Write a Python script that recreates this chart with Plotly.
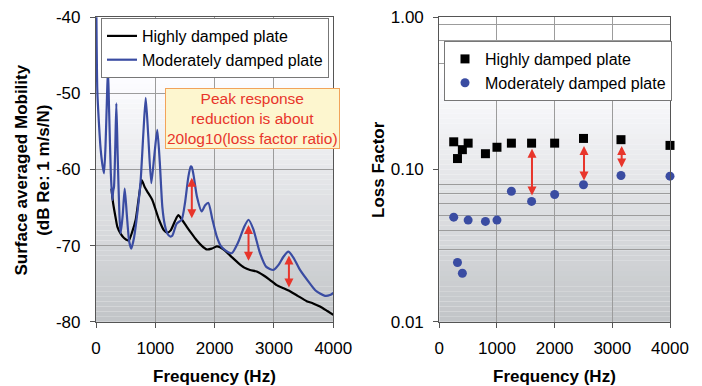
import math
import plotly.graph_objects as go

# ---------------- data ----------------
# Left: surface averaged mobility (dB re 1 m/s/N)
high_freq = [260, 290, 330, 359, 420, 472, 530, 556, 610, 669, 720, 770, 820, 865, 949, 1062,
             1146, 1200, 1259, 1330, 1387, 1450, 1528, 1610, 1697, 1780, 1866, 1950, 2035, 2090,
             2147, 2220, 2288, 2400, 2500, 2596, 2709, 2821, 2930, 3046, 3160, 3270, 3400, 3551,
             3660, 3776, 3900, 4000]
high_db = [-62.5, -64.5, -66.3, -67.5, -68.5, -69.0, -69.3, -69.3, -68.2, -66.6, -63.8, -61.4,
           -62.3, -62.9, -64.0, -66.6, -68.0, -68.3, -68.0, -66.8, -66.0, -66.6, -67.5, -68.4,
           -69.3, -70.0, -70.5, -70.4, -70.1, -70.2, -70.5, -71.0, -71.5, -72.3, -72.9, -73.2,
           -73.4, -73.9, -74.5, -75.2, -75.6, -76.0, -76.6, -77.3, -77.6, -78.0, -78.6, -79.1]

mod_freq = [5, 22, 50, 79, 110, 135, 160, 185, 202, 220, 250, 275, 290, 303, 325, 343, 365, 395,
            416, 450, 484, 520, 560, 595, 640, 700, 753, 800, 838, 880, 932, 985, 1033, 1075,
            1118, 1160, 1202, 1250, 1286, 1360, 1444, 1500, 1556, 1596, 1615, 1650, 1700, 1782,
            1840, 1895, 1960, 2035, 2100, 2175, 2288, 2400, 2500, 2571, 2650, 2765, 2870, 2990,
            3080, 3157, 3242, 3330, 3439, 3607, 3700, 3776, 3860, 3944, 4000]
mod_db = [-38.0, -49.6, -54.0, -57.4, -59.5, -60.5, -57.0, -50.5, -46.7, -52.0, -60.5, -64.0,
          -62.8, -62.3, -57.0, -51.3, -58.0, -66.0, -68.4, -66.0, -62.5, -66.0, -69.5, -70.4,
          -69.0, -65.5, -61.4, -55.0, -50.6, -55.5, -61.8, -58.0, -54.8, -59.0, -64.9, -67.3,
          -68.4, -68.8, -68.7, -67.1, -66.6, -64.4, -61.0, -59.6, -59.7, -61.0, -63.5, -65.5,
          -64.7, -64.4, -66.5, -68.8, -70.0, -70.6, -71.0, -69.5, -67.5, -66.6, -67.8, -71.0,
          -72.8, -73.2, -72.5, -71.5, -70.8, -71.6, -73.2, -75.0, -75.9, -76.3, -76.6, -76.5,
          -76.2]

left_arrow_freq = [1615, 2571, 3252]
left_arrow_top = [-60.9, -67.1, -71.1]
left_arrow_bottom = [-66.4, -72.0, -75.5]

# Right: loss factor per 1/3-octave band
band_freq = [250, 315, 400, 500, 800, 1000, 1250, 1600, 2000, 2500, 3150, 4000]
loss_high = [0.152, 0.118, 0.135, 0.149, 0.127, 0.140, 0.149, 0.149, 0.149, 0.160, 0.157, 0.144]
loss_mod = [0.0486, 0.0245, 0.0208, 0.0465, 0.0456, 0.0465, 0.0720, 0.0617, 0.0685, 0.0794,
            0.0913, 0.0904]

right_arrow_freq = [1607, 2509, 3162]
right_arrow_top = [0.140, 0.146, 0.146]
right_arrow_bottom = [0.0675, 0.0847, 0.103]

# tick labels
left_yticks = [-40, -50, -60, -70, -80]
left_yticklabels = ["-40", "-50", "-60", "-70", "-80"]
x_ticks = [0, 1000, 2000, 3000, 4000]
right_yticks = [0.01, 0.1, 1.0]
right_yticklabels = ["0.01", "0.10", "1.00"]
right_minor_grid = [0.03, 0.04, 0.05, 0.06, 0.07, 0.08, 0.5, 0.7, 0.9]

# ---------------- styling ----------------
W, H = 702, 386
FONT = "Liberation Sans, Arial, sans-serif"
BLUE = "#3a4ca2"
RED = "#e8352b"
GRID = "#9c9c9c"
AX = "#555555"

L_X0, L_X1 = 96 / W, 333.3 / W
R_X0, R_X1 = 439.3 / W, 670 / W
Y0, Y1 = 1 - 321.7 / H, 1 - 17.3 / H

fig = go.Figure()

fig.add_trace(go.Scatter(x=high_freq, y=high_db, mode="lines", name="Highly damped plate",
                         line=dict(color="#000000", width=2.2, shape="spline", smoothing=0.6),
                         xaxis="x", yaxis="y", legend="legend"))
fig.add_trace(go.Scatter(x=mod_freq, y=mod_db, mode="lines", name="Moderately damped plate",
                         line=dict(color=BLUE, width=2.2, shape="spline", smoothing=0.6),
                         xaxis="x", yaxis="y", legend="legend"))

fig.add_trace(go.Scatter(x=band_freq, y=loss_high, mode="markers", name="Highly damped plate",
                         marker=dict(symbol="square", color="#000000", size=9),
                         xaxis="x2", yaxis="y2", legend="legend2", cliponaxis=False))
fig.add_trace(go.Scatter(x=band_freq, y=loss_mod, mode="markers", name="Moderately damped plate",
                         marker=dict(symbol="circle", color=BLUE, size=9),
                         xaxis="x2", yaxis="y2", legend="legend2", cliponaxis=False))

# gradient backgrounds (stacked stripes)
shapes = []
N = 60
for xref, yref in (("x domain", "y domain"), ("x2 domain", "y2 domain")):
    for i in range(N):
        t0, t1 = i / N, (i + 1) / N
        t = (t0 + t1) / 2
        s = min(1.0, t / 0.82)
        r = int(194 + (255 - 194) * s)
        g = int(197 + (255 - 197) * s)
        b = int(200 + (255 - 200) * min(1.0, s * 1.05))
        shapes.append(dict(type="rect", xref=xref, yref=yref, x0=0, x1=1, y0=t0, y1=t1,
                           fillcolor=f"rgb({r},{g},{b})", line=dict(width=0), layer="below"))

annotations = []
# red double arrows
for f, top, bot in zip(left_arrow_freq, left_arrow_top, left_arrow_bottom):
    annotations.append(dict(x=f, y=bot, ax=f, ay=top, xref="x", yref="y", axref="x", ayref="y",
                            text="", showarrow=True, arrowhead=2, startarrowhead=2,
                            arrowside="end+start", arrowwidth=2, arrowsize=0.9, arrowcolor=RED,
                            standoff=0, startstandoff=0))
for f, top, bot in zip(right_arrow_freq, right_arrow_top, right_arrow_bottom):
    annotations.append(dict(x=f, y=math.log10(bot), ax=f, ay=math.log10(top), xref="x2", yref="y2",
                            axref="x2", ayref="y2", text="", showarrow=True, arrowhead=2,
                            startarrowhead=2, arrowside="end+start", arrowwidth=2, arrowsize=0.9,
                            arrowcolor=RED, standoff=0, startstandoff=0))

# text box
annotations.append(dict(x=253 / W, y=1 - 118.3 / H, xref="paper", yref="paper", showarrow=False,
                        xanchor="center", yanchor="middle",
                        text="Peak response<br>reduction is about<br>20log10(loss factor ratio)",
                        font=dict(family=FONT, size=15.5, color=RED), align="center",
                        bgcolor="#fdf6cf", bordercolor="#f2a35a", borderwidth=1, borderpad=1))

# axis titles
title_font = dict(family=FONT, size=17, color="#000")
annotations.append(dict(x=(L_X0 + L_X1) / 2, y=1 - 376.5 / H, xref="paper", yref="paper",
                        xanchor="center", yanchor="middle",
                        showarrow=False, text="<b>Frequency (Hz)</b>", font=title_font))
annotations.append(dict(x=(R_X0 + R_X1) / 2, y=1 - 376.5 / H, xref="paper", yref="paper",
                        xanchor="center", yanchor="middle",
                        showarrow=False, text="<b>Frequency (Hz)</b>", font=title_font))
annotations.append(dict(x=31.5 / W, y=1 - 170 / H, xref="paper", yref="paper", showarrow=False,
                        xanchor="center", yanchor="middle", textangle=-90,
                        text="<b>Surface averaged Mobility<br>(dB Re: 1 m/s/N)</b>", font=title_font))
annotations.append(dict(x=378 / W, y=1 - 170 / H, xref="paper", yref="paper", showarrow=False,
                        xanchor="center", yanchor="middle", textangle=-90,
                        text="<b>Loss Factor</b>", font=title_font))

tickfont = dict(family=FONT, size=17, color="#000")
common_x = dict(range=[0, 4000], tickvals=x_ticks, showgrid=True, gridcolor=GRID, gridwidth=1,
                zeroline=False, showline=True, linecolor=AX, linewidth=1.2, mirror=True,
                ticks="outside", ticklen=5, tickcolor=AX, tickfont=tickfont,
                ticklabelstandoff=6, automargin=False)

fig.update_layout(
    width=W, height=H, margin=dict(l=0, r=0, t=0, b=0, pad=0, autoexpand=False),
    paper_bgcolor="#ffffff", plot_bgcolor="#ffffff",
    font=dict(family=FONT, size=17, color="#000"),
    xaxis=dict(domain=[L_X0, L_X1], anchor="y", **common_x),
    yaxis=dict(domain=[Y0, Y1], anchor="x", range=[-80, -40], tickvals=left_yticks,
               ticktext=left_yticklabels, showgrid=True, gridcolor=GRID, zeroline=False,
               showline=True, linecolor=AX, linewidth=1.2, mirror=True, ticks="outside",
               ticklen=5, tickcolor=AX, tickfont=tickfont, ticklabelstandoff=6,
               automargin=False),
    xaxis2=dict(domain=[R_X0, R_X1], anchor="y2", **common_x),
    yaxis2=dict(domain=[Y0, Y1], anchor="x2", type="log", range=[-2, 0], tickvals=right_yticks,
                ticktext=right_yticklabels, showgrid=False, zeroline=False, showline=True,
                linecolor=AX, linewidth=1.2, mirror=True, ticks="outside", ticklen=5,
                tickcolor=AX, tickfont=tickfont, ticklabelstandoff=6, automargin=False,
                minor=dict(tickvals=right_minor_grid, showgrid=True, gridcolor=GRID, ticks="")),
    legend=dict(x=101 / W, y=1 - 18 / H, xanchor="left", yanchor="top", bgcolor="#ffffff",
                bordercolor="#777777", borderwidth=1, font=dict(family=FONT, size=16),
                itemwidth=30, tracegroupgap=0),
    legend2=dict(x=444 / W, y=1 - 41 / H, xanchor="left", yanchor="top", bgcolor="#ffffff",
                 bordercolor="#777777", borderwidth=1, font=dict(family=FONT, size=16),
                 itemwidth=30, tracegroupgap=0),
    shapes=shapes,
    annotations=annotations,
    showlegend=True,
)

fig.write_html(
    "out.html",
    post_script="document.body.style.margin='0';document.body.style.overflow='hidden';"
                "document.documentElement.style.overflow='hidden';",
)
